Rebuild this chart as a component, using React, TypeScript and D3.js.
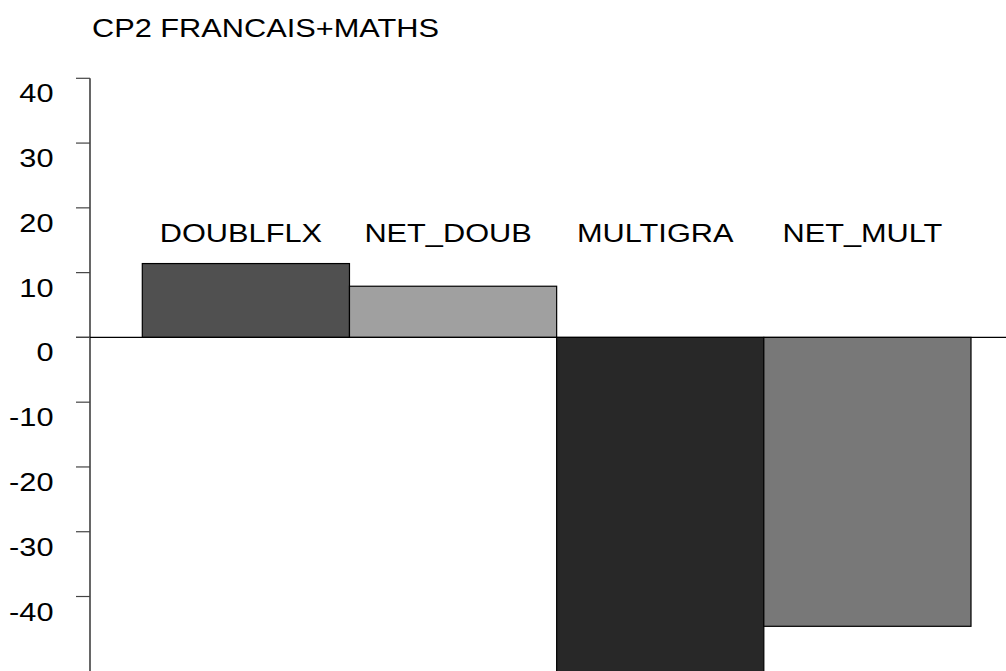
import { useEffect, useRef } from "react"
import * as d3 from "d3"

const categories = ["DOUBLFLX", "NET_DOUB", "MULTIGRA", "NET_MULT"]
const values = [11.4, 7.9, -55, -44.6]
const barColors = ["#505050", "#a0a0a0", "#282828", "#787878"]
const yTicks = [40, 30, 20, 10, 0, -10, -20, -30, -40]
const title = "CP2 FRANCAIS+MATHS"

const W = 1006
const H = 671
const FONT = "'Liberation Sans', Arial, Helvetica, sans-serif"
const FS = 26.5
const SX = 1.16

export default function App() {
  const ref = useRef<SVGSVGElement>(null)

  useEffect(() => {
    const svg = d3.select(ref.current)
    svg.selectAll("*").remove()

    const axisX = 90
    const y = d3.scaleLinear().domain([40, -51.5]).range([78.3, H])
    const x = d3.scaleBand<string>().domain(categories).range([142.3, 971]).padding(0)

    // title
    svg.append("text")
      .attr("transform", `translate(92,36.5) scale(${SX},1)`)
      .style("font-family", FONT)
      .style("font-size", `${FS}px`)
      .attr("fill", "#000")
      .text(title)

    // bars
    svg.selectAll(".bar")
      .data(categories)
      .enter()
      .append("rect")
      .attr("class", "bar")
      .attr("x", (d) => x(d) as number)
      .attr("width", x.bandwidth())
      .attr("y", (_, i) => y(Math.max(0, values[i])))
      .attr("height", (_, i) => Math.abs(y(values[i]) - y(0)))
      .attr("fill", (_, i) => barColors[i])
      .attr("stroke", "#000")
      .attr("stroke-width", 1.2)

    // zero line
    svg.append("line")
      .attr("x1", axisX - 14)
      .attr("x2", W)
      .attr("y1", y(0))
      .attr("y2", y(0))
      .attr("stroke", "#000")
      .attr("stroke-width", 1.2)

    // y axis
    svg.append("line")
      .attr("x1", axisX)
      .attr("x2", axisX)
      .attr("y1", y(40))
      .attr("y2", H)
      .attr("stroke", "#000")
      .attr("stroke-width", 1.2)

    svg.selectAll(".tick")
      .data(yTicks)
      .enter()
      .append("line")
      .attr("class", "tick")
      .attr("x1", axisX - 14)
      .attr("x2", axisX)
      .attr("y1", (d) => y(d))
      .attr("y2", (d) => y(d))
      .attr("stroke", "#444")
      .attr("stroke-width", 1.2)

    svg.selectAll(".tlabel")
      .data(yTicks)
      .enter()
      .append("text")
      .attr("class", "tlabel")
      .attr("transform", (d) => `translate(53.5,${y(d) + 24}) scale(${SX},1)`)
      .attr("text-anchor", "end")
      .style("font-family", FONT)
      .style("font-size", `${FS}px`)
      .attr("fill", "#000")
      .text((d) => String(d))

    // bar labels
    svg.selectAll(".blabel")
      .data(categories)
      .enter()
      .append("text")
      .attr("class", "blabel")
      .attr("transform", (d) => `translate(${(x(d) as number) + x.bandwidth() / 2 - 5},242) scale(${SX},1)`)
      .attr("text-anchor", "middle")
      .style("font-family", FONT)
      .style("font-size", `${FS}px`)
      .attr("fill", "#000")
      .text((d) => d)
  }, [])

  return (
    <svg
      ref={ref}
      width={W}
      height={H}
      style={{ position: "absolute", left: 0, top: 0, background: "#fff" }}
    />
  )
}
